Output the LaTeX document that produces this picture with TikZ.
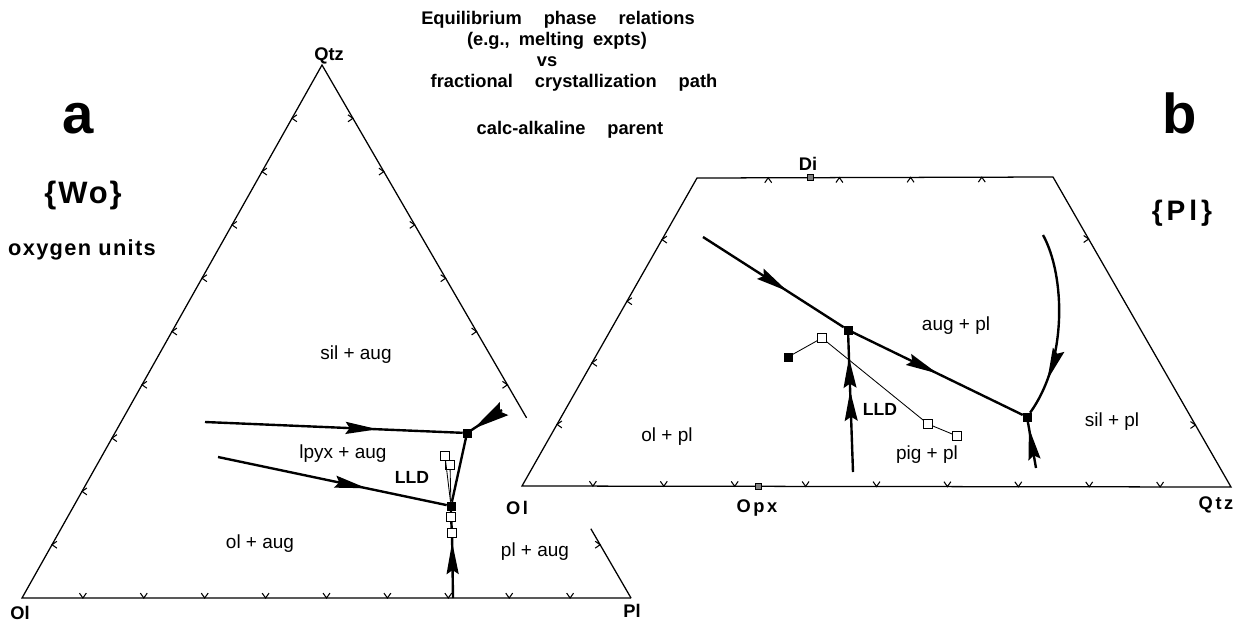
\documentclass[tikz,border=0pt]{standalone}
\usepackage{fontspec}
\setmainfont{Liberation Sans}
\usepackage{tikz}
\usetikzlibrary{positioning, arrows.meta, calc, decorations.markings}

\newcommand{\tickat}[2]{%
	\draw[tickmk] ($(#1)+(#2+145:6)$) -- (#1) -- ($(#1)+(#2-145:6)$);}

\begin{document}
\begin{tikzpicture}[x=0.025cm, y=-0.025cm,
		rim/.style={line width=0.9pt},
		tickmk/.style={line width=0.75pt},
		thickln/.style={line width=1.7pt},
		lld/.style={line width=0.6pt},
		fsq/.style={draw, fill=black, minimum size=2mm, inner sep=0pt, line width=0.4pt},
		osq/.style={draw, fill=white, minimum size=2.2mm, inner sep=0pt, line width=0.6pt},
		csq/.style={draw, fill=gray, minimum size=1.5mm, inner sep=0pt, line width=0.4pt},
		phase/.style={font=\fontsize{13.5}{15}\selectfont},
		vtx/.style={font=\bfseries\fontsize{13}{15}\selectfont},
		wvtx/.style={font=\bfseries\fontsize{13}{15}\selectfont\addfontfeatures{LetterSpace=14}},
		ttl/.style={font=\bfseries\fontsize{13}{15}\selectfont, anchor=base},
		big/.style={font=\bfseries\fontsize{40}{44}\selectfont, anchor=base},
		flow/.style={thickln, postaction={decorate, decoration={markings,
					mark=at position #1 with {\arrow{Stealth[length=8mm, width=3mm, inset=1mm]}}}}},
		wedge/.style={thickln, postaction={decorate, decoration={markings,
					mark=at position #1 with {\arrow{Stealth[length=9mm, width=3.8mm, inset=1.2mm]}}}}},
		flowtwo/.style={thickln, postaction={decorate, decoration={markings,
					mark=at position 0.59 with {\arrow{Stealth[length=7.5mm, width=3.2mm, inset=1mm]}},
					mark=at position 0.83 with {\arrow{Stealth[length=7.5mm, width=3.2mm, inset=1mm]}}}}},
		]
		\useasboundingbox (0,0) rectangle (1253,626);
		
		% heading
		\node[ttl] (t1) at (558,24) {Equilibrium\hspace{1.2em}phase\hspace{1.2em}relations};
		\node[ttl] (t2) at (557,45) {(e.g.,\hspace{0.5em}melting\hspace{0.5em}expts)};
		\node[ttl] (t3) at (547,66) {vs};
		\node[ttl] (t4) at (574,87) {fractional\hspace{1.2em}crystallization\hspace{1.2em}path};
		\node[ttl] (t5) at (570,134) {calc-alkaline\hspace{1.2em}parent};
		
		% panel a
		\coordinate (OlA) at (22,598);
		\coordinate (QtzA) at (322,65);
		\coordinate (PlA) at (631,598);
		\coordinate (cutA) at ($(QtzA)!0.662!(PlA)$);
		\coordinate (resA) at ($(QtzA)!0.87!(PlA)$);
		\draw[rim] (PlA) -- (OlA) -- (QtzA) -- (cutA);
		\draw[rim] (resA) -- (PlA);
		\foreach \k in {1,...,9} {
			\coordinate (tk) at ($(OlA)!\k/10!(PlA)$); \tickat{tk}{90}
			\coordinate (tk) at ($(QtzA)!\k/10!(OlA)$); \tickat{tk}{180}
		}
		\foreach \k in {1,2,3,4,5,6,9} {
			\coordinate (tk) at ($(QtzA)!\k/10!(PlA)$); \tickat{tk}{0}
		}
		
		\node[big] (labA) at (78,133) {a};
		\node[anchor=base, font=\bfseries\fontsize{22}{24}\selectfont\addfontfeatures{LetterSpace=6}] (wo) at (83,203) {\{Wo\}};
		\node[anchor=base, font=\bfseries\fontsize{15.5}{17}\selectfont\addfontfeatures{LetterSpace=6}] (oxy) at (82,255) {oxygen units};
		\node[vtx, anchor=base] (tQtzA) at (329,60) {Qtz};
		\node[vtx] (tOlA) at (20,613) {Ol};
		\node[vtx] (tPlA) at (632,611) {Pl};
		
		\node[fsq] (sqA1) at (467,433) {};
		\node[fsq] (sqA2) at (451,506) {};
		\node[osq] (oA1) at (445,456) {};
		\node[osq] (oA2) at (450,465) {};
		\node[osq] (oA3) at (451,517) {};
		\node[osq] (oA4) at (452,533) {};
		\coordinate (inA1) at (205,422);
		\coordinate (inA2) at (218,457);
		\coordinate (inA3) at (453,598);
		\coordinate (outA) at (502,410);
		
		\draw[flow=0.67] (inA1) -- (sqA1);
		\draw[flow=0.65] (inA2) -- (sqA2);
		\draw[thickln] (sqA2) -- (sqA1);
		\draw[wedge=0.92] (outA) -- (sqA1);
		\draw[flow=0.93] (inA3) -- (oA4);
		\draw[thickln] (oA4) -- (oA3) -- (sqA2);
		\draw[lld] (sqA2) -- (oA1);
		\draw[lld] (sqA2) -- (oA2);
		
		\node[phase] (silaug) at (356,355) {sil + aug};
		\node[phase] (lpyxaug) at (343,454) {lpyx + aug};
		\node[phase] (olaug) at (260,544) {ol + aug};
		\node[phase] (plaug) at (535,552) {pl + aug};
		\node[font=\bfseries\fontsize{12.5}{14}\selectfont] (lldA) at (412,477) {LLD};
		
		% panel b
		\coordinate (OlB) at (522,486);
		\coordinate (TLB) at (697,178);
		\coordinate (TRB) at (1053,177);
		\coordinate (QtzB) at (1231,487);
		\draw[rim] (OlB) -- (TLB) -- (TRB) -- (QtzB) -- cycle;
		\foreach \k in {1,...,9} {
			\coordinate (tk) at ($(OlB)!\k/10!(QtzB)$); \tickat{tk}{90}
		}
		\foreach \k in {1,...,4} {
			\coordinate (tk) at ($(OlB)!\k/5!(TLB)$); \tickat{tk}{180}
			\coordinate (tk) at ($(TLB)!\k/5!(TRB)$); \tickat{tk}{270}
		}
		\foreach \k in {1,4} {
			\coordinate (tk) at ($(TRB)!\k/5!(QtzB)$); \tickat{tk}{0}
		}
		\node[csq] (DiM) at ($(TLB)!0.318!(TRB)$) {};
		\node[csq] (OpxM) at ($(OlB)!1/3!(QtzB)$) {};
		
		\node[big] (labB) at (1180,133) {b};
		\node[anchor=base, font=\bfseries\fontsize{20}{22}\selectfont\addfontfeatures{LetterSpace=14}] (plB) at (1182,220) {\{Pl\}};
		\node[wvtx] (tOlB) at (517,508) {Ol};
		\node[wvtx] (tOpx) at (757,508) {Opx};
		\node[wvtx] (tQtzB) at (1216,505) {Qtz};
		\node[vtx] (tDi) at (808,164) {Di};
		
		\node[fsq] (sqB1) at (848,330) {};
		\node[fsq] (sqB2) at (1027,417) {};
		\node[fsq] (sB0) at (788,357) {};
		\node[osq] (oB1) at (822,338) {};
		\node[osq] (oB2) at (928,424) {};
		\node[osq] (oB3) at (957,436) {};
		\coordinate (inB1) at (703,237);
		\coordinate (inB2) at (853,472);
		\coordinate (inB3) at (1036,468);
		\coordinate (inB4) at (1043,235);
		
		\draw[flow=0.6] (inB1) -- (sqB1);
		\draw[flow=0.5] (sqB1) -- (sqB2);
		\draw[flowtwo] (inB2) -- (sqB1);
		\draw[flow=0.86] (inB3) -- (sqB2);
		\draw[flow=0.8] (inB4) .. controls (1065,275) and (1068,360) .. (sqB2);
		\draw[lld] (sB0) -- (oB1) -- (oB2) -- (oB3);
		
		\node[phase] (augpl) at (956,326) {aug + pl};
		\node[phase] (olpl) at (667,437) {ol + pl};
		\node[phase] (pigpl) at (927,455) {pig + pl};
		\node[phase] (silpl) at (1112,422) {sil + pl};
		\node[font=\bfseries\fontsize{12.5}{14}\selectfont] (lldB) at (880,409) {LLD};
		
	\end{tikzpicture}
\end{document}
